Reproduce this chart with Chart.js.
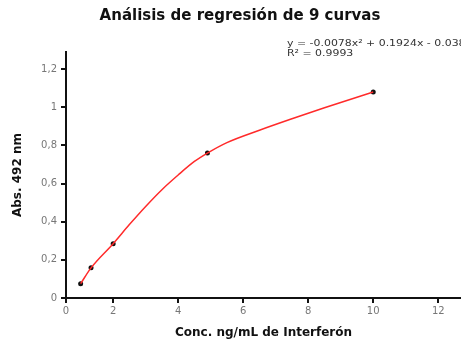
<!DOCTYPE html>
<html>
<head>
<meta charset="utf-8">
<script src="https://cdn.jsdelivr.net/npm/chart.js@4.4.0/dist/chart.umd.min.js"></script>
<style>
  html, body { margin: 0; padding: 0; background: #fff; }
  canvas { display: block; }
</style>
</head>
<body>
<canvas id="grafico" width="461" height="341"></canvas>
<script>
// puntos medidos
const concentraciones = [1.0, 1.32, 2.0, 4.9, 10.0];
const absorbancias = [0.075, 0.158, 0.285, 0.76, 1.08];
// curva de regresión
const curvaX = [1.0, 1.32, 2.0, 2.5, 3.0, 3.5, 4.0, 4.5, 4.9, 5.5, 6.5, 7.5, 8.5, 10.0];
const curvaY = [0.075, 0.158, 0.285, 0.385, 0.48, 0.568, 0.645, 0.716, 0.76, 0.815, 0.88, 0.94, 0.998, 1.08];
const ticksX = [2, 4, 6, 8, 10, 12];
const ticksY = [0, 0.2, 0.4, 0.6, 0.8, 1, 1.2];
const titulo = 'Análisis de regresión de 9 curvas';
const ecuacion = ['y = -0.0078x² + 0.1924x - 0.0382', 'R² = 0.9993'];

const X_MIN = 0.55, X_MAX = 12.7;
const FUENTE = '"DejaVu Sans", Verdana, sans-serif';

// título y ecuación
const textosPlugin = {
    id: 'textos',
    afterDraw(chart) {
        const ctx = chart.ctx;
        ctx.save();
        ctx.fillStyle = '#111';
        ctx.font = 'bold 15px ' + FUENTE;
        ctx.textAlign = 'center';
        ctx.textBaseline = 'middle';
        ctx.fillText(titulo, 240, 16);

        ctx.font = '9.5px ' + FUENTE;
        ctx.fillStyle = '#333';
        ctx.textAlign = 'left';
        ctx.translate(287, 0);
        ctx.scale(1.15, 1);
        ctx.fillText(ecuacion[0], 0, 44);
        ctx.fillText(ecuacion[1], 0, 54);
        ctx.restore();
    }
};

const ctx = document.getElementById('grafico').getContext('2d');
new Chart(ctx, {
    type: 'line',
    data: {
        datasets: [{
            data: curvaX.map((x, i) => ({ x: x, y: curvaY[i] })),
            borderColor: '#ff2a2a',
            borderWidth: 1.5,
            cubicInterpolationMode: 'monotone',
            pointRadius: 0
        }, {
            data: concentraciones.map((x, i) => ({ x: x, y: absorbancias[i] })),
            showLine: false,
            pointRadius: 2.5,
            pointBackgroundColor: '#111',
            pointBorderColor: '#111',
            pointBorderWidth: 0
        }]
    },
    options: {
        responsive: false,
        animation: false,
        layout: { autoPadding: false, padding: { top: 52, right: 0, bottom: 0, left: 0 } },
        plugins: {
            legend: { display: false },
            tooltip: { enabled: false },
            title: { display: false }
        },
        scales: {
            x: {
                type: 'linear',
                min: X_MIN,
                max: X_MAX,
                afterBuildTicks: s => { s.ticks = [X_MIN].concat(ticksX).map(v => ({ value: v })); },
                afterFit: s => { s.height = 43; s.paddingRight = 0; s.paddingLeft = 0; },
                border: { display: true, color: '#111', width: 2 },
                grid: { drawOnChartArea: false, color: '#111', lineWidth: 2, tickLength: 5 },
                ticks: {
                    color: '#777',
                    font: { family: FUENTE, size: 10 },
                    padding: 2,
                    maxRotation: 0,
                    callback: v => v === X_MIN ? '0' : String(v)
                },
                title: {
                    display: true,
                    text: 'Conc. ng/mL de Interferón',
                    color: '#111',
                    font: { family: FUENTE, size: 12, weight: 'bold' },
                    padding: { top: 0, bottom: 1 }
                }
            },
            y: {
                type: 'linear',
                min: 0,
                max: 1.29,
                afterBuildTicks: s => { s.ticks = ticksY.map(v => ({ value: v })); },
                afterFit: s => { s.width = 66; s.paddingTop = 0; },
                border: { display: true, color: '#111', width: 2 },
                grid: { drawOnChartArea: false, color: '#111', lineWidth: 2, tickLength: 5 },
                ticks: {
                    color: '#777',
                    font: { family: FUENTE, size: 10 },
                    padding: 4,
                    callback: v => String(v).replace('.', ',')
                },
                title: {
                    display: true,
                    text: 'Abs. 492 nm',
                    color: '#111',
                    font: { family: FUENTE, size: 12, weight: 'bold' },
                    padding: { top: 11, bottom: 0 }
                }
            }
        }
    },
    plugins: [textosPlugin]
});
</script>
</body>
</html>
